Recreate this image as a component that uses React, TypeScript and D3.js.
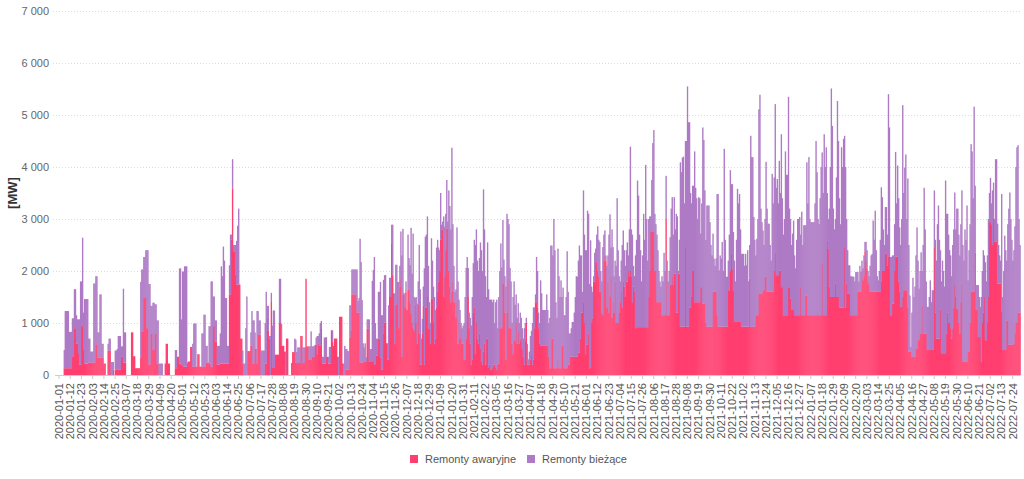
import React, { useEffect, useRef } from "react";
import * as d3 from "d3";

// Daily values in MW. Series: emergency (red) and current (purple) repairs.
const startDate = new Date(2020, 0, 1);
const seriesNames = ["Remonty awaryjne", "Remonty bieżące"];
const seriesColors = ["#ff3f6f", "#ae7ac5"];
const yTicks = [0, 1000, 2000, 3000, 4000, 5000, 6000, 7000];

const awaryjne2020 = [
  0,0,0,0,0,130,130,130,130,130, 130,130,130,360,360,900,900,600,600,420,
  200,200,940,940,480,220,220,220,220,240, 240,240,240,240,240,240,590,590,330,330,
  330,330,330,330,220,220,0,0,470,470, 470,0,0,100,0,100,100,100,100,100,
  100,350,350,240,240,240,0,0,0,0, 0,820,820,360,360,130,130,130,130,130,
  340,830,830,1480,1480,1480,900,900,200,200, 800,800,480,480,800,800,220,220,0,0,
  0,0,0,0,220,600,600,220,220,0, 0,0,0,0,130,130,350,350,220,220,
  190,190,160,160,160,160,240,260,260,540, 540,160,160,160,160,160,400,400,160,160,
  160,160,160,160,240,240,240,220,220,160, 160,940,940,640,640,200,200,200,
  220,220,220,220,220,220,220,220,220,1550, 1550,2600,3590,2380,2380,1930,1740,1740,1740,1740,
  700,700,220,0,0,0,0,460,460,460, 560,560,220,220,500,500,220,780,780,780,
  0,0,0,0,220,220,1100,850,700,0, 1420,150,150,150,390,390,390,390,1000,1000,
  560,560,560,450,0,700,700,0,0,0, 230,440,440,440,230,230,230,230,230,750,
  750,230,230,530,1850,550,550,300,300,300, 350,350,350,580,580,400,600,560,560,900,
  220,220,220,220,350,350,220,220,220,860, 640,560,700,700,700,350,0,1120,1120,1120,
  220,0,0,100,100,100,100,720,850,1550, 1550,1550,1550,1550,1200,1200,1200,240,240,240,
  240,250,250,250,890,890,250,250,250,250, 250,200,220,370,370,700,700,
  330,100,100,790,1010,1010,610,300,300,1500, 1500,2520,1930,1570,600,1360,1360,1790,900,1700,
  1860,350,1550,1550,1300,1600,1250,1640,1640,1380, 1190,1000,900,850,1360,1000,600,1360,800,200,
  200,800,1340,200,1300,1300,1500,900,900,600, 1460,
];

const biezace2020 = [
  0,0,0,0,0,350,1100,1100,1100,1100, 700,700,700,730,730,750,750,550,470,650,
  870,1600,860,1700,720,1240,1240,1240,1240,460, 460,210,210,210,1520,1520,1310,1310,490,490,
  1220,1220,270,270,0,0,0,0,130,230, 230,250,250,150,0,370,370,400,650,650,
  650,200,200,1420,580,580,0,0,0,0, 0,0,0,0,0,0,0,0,0,0,
  1450,1200,1200,790,790,920,1500,1500,1550,1550, 530,530,910,910,560,560,830,830,220,220,
  220,220,0,0,0,0,0,0,0,0, 0,0,0,0,350,350,0,0,1830,1830,
  880,1800,1830,1930,1930,1930,0,0,0,0, 0,440,830,830,830,0,0,0,0,0,
  640,640,1000,1000,320,320,0,720,720,1640, 1640,570,570,410,410,360,360,360,
  580,1870,1680,2250,1980,1260,1260,340,340,560, 1150,100,560,120,120,570,840,1130,1460,0,
  0,0,250,220,220,900,1510,0,0,0, 260,670,830,830,320,0,1010,450,270,270,
  470,470,470,470,780,1380,230,480,50,750, 160,800,1090,1090,0,0,0,0,850,850,
  420,0,0,0,450,0,0,0,0,0, 0,0,0,260,450,210,300,300,300,0,
  0,300,300,0,0,0,0,250,250,540, 200,200,210,0,140,350,150,240,440,140,
  130,130,500,500,380,0,130,320,320,0, 220,0,0,0,0,0,350,0,0,0,
  0,220,560,400,400,360,360,620,490,480, 480,480,480,480,830,220,280,2380,1930,1200,
  370,280,360,90,180,180,820,250,250,1560, 1770,2070,780,330,330,900,900,
  1460,1050,1050,1040,910,910,0,310,1040,370, 370,370,960,0,970,760,760,0,890,400,
  900,1950,1260,20,270,200,0,1060,610,730, 1640,950,1820,650,120,500,770,440,1700,1450,
  500,280,360,1850,1360,1400,1550,1200,500,400, 1170,
];

const awaryjne2021 = [
  1460,1000,600,700,1300,1600,1800,2000,2600,2790, 2790,1500,1900,2400,2820,2820,2000,1700,1400,1600,
  1800,1400,1400,1100,1400,600,1000,700,900,600, 600,300,300,700,2060,1500,900,600,200,300,
  1200,1300,400,1000,700,600,800,500,250,200, 450,600,200,700,700,150,200,100,100,150,
  200,200,150,100,200,220,900,900,900,1750, 1750,1200,300,1200,1850,900,900,900,600,400,
  700,650,1000,600,850,600,700,650,500,350, 200,650,1000,200,200,200,300,400,200,300,
  900,1400,1400,1300,900,600,
  560,560,560,560,560,560,560,560,350,130, 130,700,700,130,130,130,130,300,130,130,
  130,560,560,130,130,130,130,200,200,350, 350,350,350,350,350,350,350,430,430,700,
  1200,1200,1400,1000,400,580,580,800,130,150, 1000,1090,1800,1800,2170,2170,2000,1900,1600,1600,
  1200,1150,2200,2290,2200,1300,1800,1200,1500,1900, 1100,1400,1200,1800,1000,1000,1000,1200,1400,1600,
  1300,1800,1700,1500,1800,1800,2000,1900,2000,1900, 1400,1700,1600,900,920,920,920,920,920,920,
  920,920,920,920,920,920,1500,2000,2750,2750, 2750,2750,2000,2000,1400,1400,1400,1400,1400,1150,
  1150,1150,1150,3000,1150,1150,1150,1730,1730,1900, 1730,1950,1950,1200,1200,1950,1950,930,930,930,
  930,930,2460,930,930,930,1300,1300,1500,2000, 2000,1400,1400,1400,1400,1400,1400,
  1690,1690,1370,1370,1370,1000,930,930,930,930, 930,930,1600,1600,1600,1600,1150,930,930,930,
  930,930,930,930,930,930,930,1630,1630,2000, 2330,2050,1630,1020,1020,1020,1020,1020,1020,1020,
  930,930,930,930,930,930,930,930,1850,930, 930,930,930,930,1150,1150,1150,1570,1570,1570,
  1570,1630,1630,1890,1890,1600,1600,1600,1600,1600, 1600,1600,2000,2360,1920,1920,1920,2010,2010,1690,
  1690,1150,1150,1150,1150,1150,1690,1690,1470,1250, 1250,1250,1150,1150,1150,1150,1150,1150,1690,1150,
  1150,1150,
];

const biezace2021 = [
  740,700,900,550,1150,1000,650,400,900,100, 160,1550,950,700,930,130,1550,1550,1400,2770,
  1100,700,200,550,1440,1200,450,550,100,300, 350,700,1200,1360,210,560,300,500,750,1200,
  950,1300,2100,1800,1500,1400,1450,2050,2150,1800, 3120,2200,1700,800,1850,1500,1250,1350,1350,1250,
  1250,800,1250,1350,700,1280,1100,1630,1170,1230, 470,700,1400,1900,1150,2000,1160,900,400,1100,
  1100,700,550,500,530,400,500,450,400,350, 700,350,100,400,100,250,450,450,800,1000,
  400,150,870,700,300,400,
  1260,1010,690,690,690,690,990,690,650,970, 2360,1790,1600,2870,2270,1270,970,2130,1770,1370,
  1690,940,1120,1020,1020,1370,2250,1400,600,450, 550,670,670,850,1150,1550,1540,1770,2060,1600,
  1100,400,2150,1700,2000,1820,2580,2300,1620,2440, 700,510,100,550,260,530,860,700,960,400,
  600,1310,500,490,100,800,500,1500,1590,550, 1700,1060,700,400,1100,2400,1400,700,400,600,
  1200,980,700,600,600,750,300,900,2390,900, 1300,400,300,1400,1680,2820,2530,1780,1480,880,
  1380,2180,1680,3120,2080,1280,1500,1050,300,1000, 1710,1960,1100,900,1300,1000,600,400,300,750,
  650,1200,850,830,1050,650,850,920,1470,1520, 970,1470,850,1900,1850,50,650,3160,2970,3250,
  3270,2370,2040,3570,4620,3930,3560,2200,1800,1640, 1640,2900,2200,2000,1600,2020,2000,
  1030,1610,3390,3150,2180,1600,2330,2330,2330,2010, 1570,1370,1120,640,500,640,2330,2550,1080,1370,
  1310,1630,1070,3420,1670,960,960,570,1070,1940, 1340,1620,1120,1180,780,1580,2560,2280,2460,1780,
  1400,1400,1400,1170,1400,1180,1470,870,650,3670, 3260,3260,2110,1670,1150,1470,1850,3540,3820,1630,
  1370,1150,870,1110,2210,1600,1310,1310,900,600, 2270,1700,1800,2850,1680,1850,1380,2110,1490,2940,
  1710,1550,1850,3150,2700,2700,3660,1510,1530,1250, 1470,1720,1150,900,1450,1850,1850,1890,1010,1990,
  1350,1730,
];

const awaryjne2022 = [
  1150,1530,1530,1150,1150,1150,1150,1150,1150,1150, 1150,1150,1150,1150,1150,1150,1150,2140,1150,1150,
  1150,1150,2590,2430,1700,1500,1500,1500,1500,1500, 1760,1500,1500,1500,1300,1300,1300,1300,1300,2460,
  1300,1760,1570,1570,1570,1150,1150,1150,1150,1150, 1150,1150,1600,1600,1600,
  1600,2010,1820,1900,2380,2200,2050,1800,1730,1600, 1600,1600,1600,1600,1600,1600,1600,1600,1600,1600,
  1800,2000,2000,2000,2330,2330,2100,2270,2270,1150, 1150,1370,1370,2000,2280,2280,2280,1800,1600,1310,
  1310,1500,1630,1630,1630,1630,1300,450,450,450, 350,350,350,350,500,500,670,670,800,800,
  1340,800,800,800,800,480,480,480,480,480, 480,480,2460,1200,700,700,700,700,1260,420,
  420,420,420,420,800,1200,1000,1000,900,700, 900,1300,1730,1500,1280,1280,1000,800,1400,1760,
  260,260,260,260,260,450,450,1000,1600,1600, 1600,1600,2350,1250,1250,730,730,730,260,1000,
  1200,1500,670,670,1000,1500,2940,2940,2900,2500, 3030,2560,2560,2560,1760,1760,1760,1760,1210,480,
  480,480,480,1050,1050,580,580,580,580,580, 600,800,1000,1000,1200,1200,1200,
];

const biezace2022 = [
  1730,1350,2560,2150,3040,1850,1790,1790,1790,1790, 2150,3350,2750,1850,1750,2250,2850,2140,2350,3480,
  2850,3230,910,570,1500,2500,4010,3290,1700,1300, 1240,2300,3770,3000,2100,1600,3080,2700,3240,2140,
  2700,1240,830,540,540,750,750,740,740,650, 830,830,380,200,500,
  380,190,230,400,180,360,350,200,170,500, 700,730,1370,1000,1560,800,300,220,400,1000,
  1810,1420,800,500,900,900,600,3130,2490,1120, 1120,930,930,900,2010,1020,1750,1600,1240,1190,
  1690,3690,1870,2360,2610,1370,2480,2050,1080,90, 850,1520,1150,1350,1800,2340,1530,990,1200,1560,
  660,1700,2800,2000,1000,830,830,1020,1340,920, 1150,1150,1090,1400,1500,2200,2560,1900,1140,1380,
  1780,1580,1280,3320,2300,1900,1700,1400,1400,1200, 1600,1500,1780,1300,1920,1920,1700,1500,1500,1790,
  2240,1940,2540,2340,3000,1370,1950,1900,2840,2700, 1800,3560,1290,480,480,1000,770,580,1240,1000,
  1200,800,1500,1130,1300,1500,560,850,400,1050, 670,440,1590,1590,1150,740,540,440,2270,1020,
  1520,2200,1920,1150,1850,2620,2930,2420,2020,1620, 1800,2060,3000,3380,3220,1800,1300,
];

const awaryjne = [...awaryjne2020, ...awaryjne2021, ...awaryjne2022];
const biezace = [...biezace2020, ...biezace2021, ...biezace2022];

const FONT = "'Liberation Sans', Arial, sans-serif";

export default function App() {
  const svgRef = useRef<SVGSVGElement>(null);

  useEffect(() => {
    if (!svgRef.current) return;
    const svg = d3.select(svgRef.current);
    svg.selectAll("*").remove();

    const width = 1024;
    const height = 479;
    const n = Math.min(awaryjne.length, biezace.length);
    const days = d3.range(n);
    const fmtDate = d3.timeFormat("%Y-%m-%d");
    const locale = d3.formatLocale({ decimal: ",", thousands: " ", grouping: [3], currency: ["", ""] });
    const fmtY = locale.format(",");

    const plotLeft = 58.5;
    const plotRight = 1020.4;
    const plotTop = 11;
    const plotBottom = 375;

    const x = d3.scaleBand<number>().domain(days).range([plotLeft, plotRight]).paddingInner(0);
    const y = d3.scaleLinear().domain([0, 7000]).range([plotBottom, plotTop]);
    // slight overlap so neighbouring bars do not leave pale anti-aliasing seams
    const barW = x.step() + 0.35;

    svg.attr("width", width).attr("height", height);

    // Grid lines
    const grid = svg.append("g");
    yTicks.filter((v) => v > 0).forEach((v) => {
      grid.append("line")
        .attr("x1", 53)
        .attr("x2", plotRight)
        .attr("y1", Math.round(y(v)) + 0.5)
        .attr("y2", Math.round(y(v)) + 0.5)
        .attr("stroke", "#dcdcdc")
        .attr("stroke-width", 1)
        .attr("stroke-dasharray", "1,2");
    });

    // Y tick labels
    svg.append("g")
      .selectAll("text")
      .data(yTicks)
      .join("text")
      .attr("x", 49)
      .attr("y", (d) => y(d))
      .attr("dy", "0.35em")
      .attr("text-anchor", "end")
      .attr("fill", "#666")
      .style("font-family", FONT)
      .style("font-size", "11px")
      .text((d) => fmtY(d));

    // Y axis title
    svg.append("text")
      .attr("transform", `translate(17,${(plotTop + plotBottom) / 2}) rotate(-90)`)
      .attr("text-anchor", "middle")
      .attr("fill", "#333")
      .style("font-family", FONT)
      .style("font-size", "13px")
      .style("font-weight", "bold")
      .text("[MW]");

    // Stacked bars: red at the bottom, purple on top
    const bars = svg.append("g");
    bars.selectAll("rect.red")
      .data(days)
      .join("rect")
      .attr("class", "red")
      .attr("x", (i) => x(i)!)
      .attr("width", barW)
      .attr("y", (i) => y(awaryjne[i]))
      .attr("height", (i) => y(0) - y(awaryjne[i]))
      .attr("fill", seriesColors[0]);

    bars.selectAll("rect.purple")
      .data(days)
      .join("rect")
      .attr("class", "purple")
      .attr("x", (i) => x(i)!)
      .attr("width", barW)
      .attr("y", (i) => y(awaryjne[i] + biezace[i]))
      .attr("height", (i) => y(awaryjne[i]) - y(awaryjne[i] + biezace[i]))
      .attr("fill", seriesColors[1]);

    // X axis
    const tickDays = days.filter((i) => i % 11 === 0);
    const xAxis = svg.append("g")
      .attr("transform", `translate(0,${plotBottom})`)
      .call(
        d3.axisBottom(x)
          .tickValues(tickDays)
          .tickSize(4)
          .tickSizeOuter(0)
          .tickFormat((i) => fmtDate(d3.timeDay.offset(startDate, i as number)))
      );
    xAxis.select(".domain").remove();
    xAxis.append("line")
      .attr("x1", 55)
      .attr("x2", plotRight)
      .attr("y1", 0.5)
      .attr("y2", 0.5)
      .attr("stroke", "#cccccc");
    xAxis.selectAll(".tick line").attr("stroke", "#cccccc");
    xAxis.selectAll(".tick text")
      .attr("transform", "rotate(-90)")
      .attr("x", -8)
      .attr("y", 0)
      .attr("dy", "0.35em")
      .style("text-anchor", "end")
      .style("font-family", FONT)
      .style("font-size", "11px")
      .attr("fill", "#555");

    // Legend
    const legend = svg.append("g");
    const legendX = [410, 527];
    seriesNames.forEach((name, k) => {
      legend.append("rect")
        .attr("x", legendX[k])
        .attr("y", 455)
        .attr("width", 8)
        .attr("height", 8)
        .attr("fill", seriesColors[k]);
      legend.append("text")
        .attr("x", legendX[k] + 15)
        .attr("y", 459)
        .attr("dy", "0.35em")
        .attr("fill", "#555")
        .style("font-family", FONT)
        .style("font-size", "11px")
        .text(name);
    });
  }, []);

  return (
    <svg
      ref={svgRef}
      width={1024}
      height={479}
      style={{ display: "block", position: "absolute", left: 0, top: 0, background: "#fff" }}
    />
  );
}
